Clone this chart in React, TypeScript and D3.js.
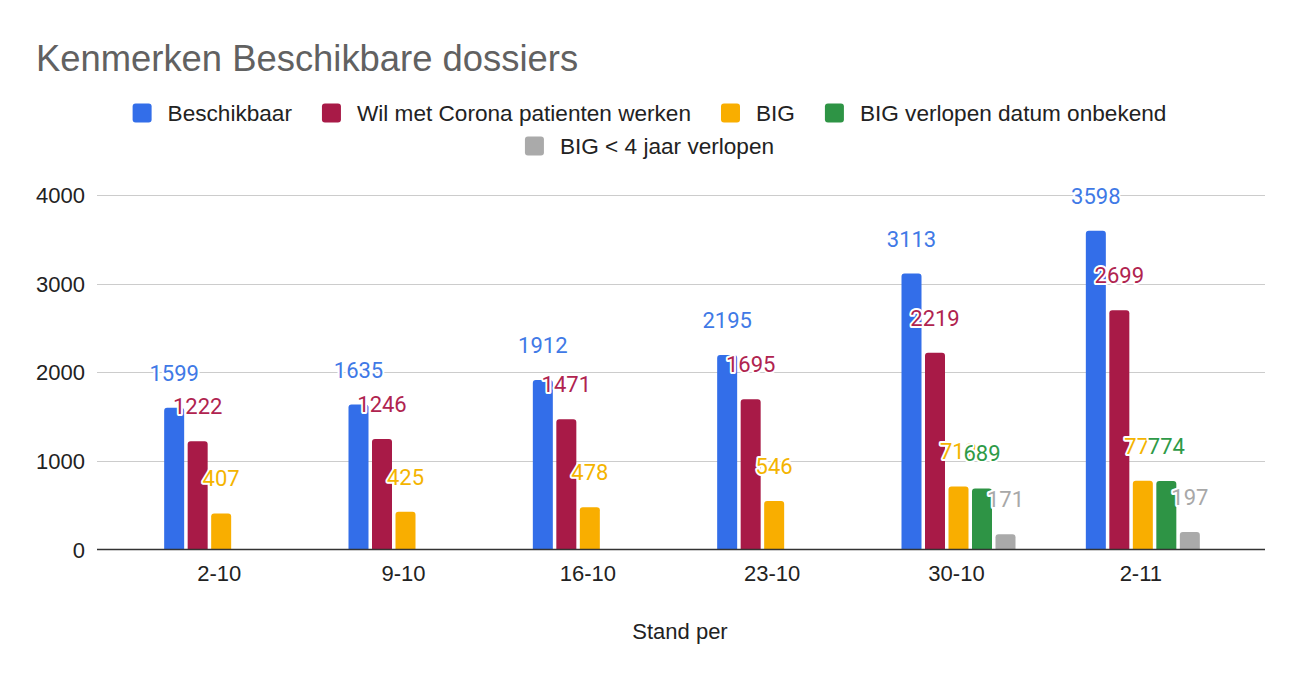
import React from "react";
import * as d3 from "d3";

const categories = ["2-10", "9-10", "16-10", "23-10", "30-10", "2-11"];
const seriesNames = [
  "Beschikbaar",
  "Wil met Corona patienten werken",
  "BIG",
  "BIG verlopen datum onbekend",
  "BIG < 4 jaar verlopen",
];
const beschikbaar = [1599, 1635, 1912, 2195, 3113, 3598];
const wilMetCorona = [1222, 1246, 1471, 1695, 2219, 2699];
const big = [407, 425, 478, 546, 712, 777];
const bigVerlopenOnbekend: (number | null)[] = [null, null, null, null, 689, 774];
const bigMinder4Jaar: (number | null)[] = [null, null, null, null, 171, 197];
const yTicks = [0, 1000, 2000, 3000, 4000];
const colors = ["#336ee9", "#a81a47", "#f9ae00", "#2e9445", "#aaaaaa"];
const labelColors = ["#4079e6", "#b0234f", "#f4b400", "#2e9a47", "#a8a8a8"];

const seriesValues = [beschikbaar, wilMetCorona, big, bigVerlopenOnbekend, bigMinder4Jaar];

const W = 1299;
const H = 680;
const FONT = "'Liberation Sans', Arial, sans-serif";

function measure(text: string, font: string): number {
  const c = document.createElement("canvas");
  const ctx = c.getContext("2d");
  if (!ctx) return text.length * 11;
  ctx.font = font;
  return ctx.measureText(text).width;
}

function topRoundedRect(x: number, y: number, w: number, h: number, r: number) {
  const rr = Math.min(r, h, w / 2);
  const p = d3.path();
  p.moveTo(x, y + h);
  p.lineTo(x, y + rr);
  p.arcTo(x, y, x + rr, y, rr);
  p.lineTo(x + w - rr, y);
  p.arcTo(x + w, y, x + w, y + rr, rr);
  p.lineTo(x + w, y + h);
  p.closePath();
  return p.toString();
}

export default function App() {
  const x0 = d3.scaleBand<string>().domain(categories).range([127, 1233]).padding(0);
  const groupW = 114;
  const x1 = d3
    .scaleBand<string>()
    .domain(seriesNames)
    .range([0, groupW])
    .paddingInner(3.5 / 23.5)
    .paddingOuter(0);
  const groupOffset = (x0.bandwidth() - groupW) / 2 + 2;
  const y = d3.scaleLinear().domain([0, 4000]).range([549.5, 195]);
  const gridX1 = 97;
  const gridX2 = 1265;

  // Legend layout
  const legendSize = 22.6;
  const legendFont = `${legendSize}px ${FONT}`;
  const sq = 19;
  const gapText = 16;
  const gapItem = 30;
  const rows = [seriesNames.slice(0, 4).map((n, i) => ({ n, i })), [{ n: seriesNames[4], i: 4 }]];
  const rowY = [113, 146];
  const legendItems: { n: string; i: number; x: number; y: number }[] = [];
  rows.forEach((row, ri) => {
    const widths = row.map((it) => sq + gapText + measure(it.n, legendFont));
    const total = widths.reduce((a, b) => a + b, 0) + gapItem * (row.length - 1);
    let cx = W / 2 - total / 2;
    row.forEach((it, k) => {
      legendItems.push({ ...it, x: cx, y: rowY[ri] });
      cx += widths[k] + gapItem;
    });
  });

  const bars: { s: number; c: number; v: number }[] = [];
  seriesValues.forEach((vals, s) => {
    vals.forEach((v, c) => {
      if (v !== null && v !== undefined) bars.push({ s, c, v });
    });
  });

  const barX = (b: { s: number; c: number }) =>
    (x0(categories[b.c]) as number) + groupOffset + (x1(seriesNames[b.s]) as number);

  return (
    <svg
      width={W}
      height={H}
      style={{ position: "absolute", left: 0, top: 0, display: "block", background: "#fff" }}
    >
      <rect x={0} y={0} width={W} height={H} fill="#fff" />
      <text x={36} y={71} fontFamily={FONT} fontSize={36.4} fill="#616161">
        Kenmerken Beschikbare dossiers
      </text>

      {legendItems.map((it) => (
        <g key={it.n}>
          <rect x={it.x} y={it.y - sq / 2} width={sq} height={sq} rx={3} fill={colors[it.i]} />
          <text x={it.x + sq + gapText} y={it.y + 8} fontFamily={FONT} fontSize={legendSize} fill="#222">
            {it.n}
          </text>
        </g>
      ))}

      {yTicks.map((t) => (
        <g key={t}>
          {t !== 0 && (
            <line x1={gridX1} x2={gridX2} y1={Math.round(y(t)) + 0.5} y2={Math.round(y(t)) + 0.5} stroke="#cccccc" strokeWidth={1} />
          )}
          <text x={85} y={y(t) + 8} textAnchor="end" fontFamily={FONT} fontSize={22} fill="#222">
            {t}
          </text>
        </g>
      ))}

      {bars.map((b) => (
        <path
          key={`b${b.s}-${b.c}`}
          d={topRoundedRect(barX(b), y(b.v), x1.bandwidth(), y(0) - y(b.v), 3)}
          fill={colors[b.s]}
        />
      ))}

      <line x1={gridX1} x2={gridX2} y1={y(0)} y2={y(0)} stroke="#333" strokeWidth={1.6} />

      {bars.map((b) => (
        <text
          key={`l${b.s}-${b.c}`}
          x={barX(b) + x1.bandwidth() / 2}
          y={y(b.v) - 27}
          textAnchor="middle"
          fontFamily="Roboto, 'Noto Sans', sans-serif"
          fontSize={22}
          fill={labelColors[b.s]}
          stroke="#fff"
          strokeWidth={4}
          strokeLinejoin="round"
          paintOrder="stroke"
        >
          {b.v}
        </text>
      ))}

      {categories.map((c) => (
        <text
          key={c}
          x={(x0(c) as number) + x0.bandwidth() / 2}
          y={581}
          textAnchor="middle"
          fontFamily={FONT}
          fontSize={22}
          fill="#222"
        >
          {c}
        </text>
      ))}

      <text x={(127 + 1233) / 2} y={639} textAnchor="middle" fontFamily={FONT} fontSize={22} fill="#222">
        Stand per
      </text>
    </svg>
  );
}
